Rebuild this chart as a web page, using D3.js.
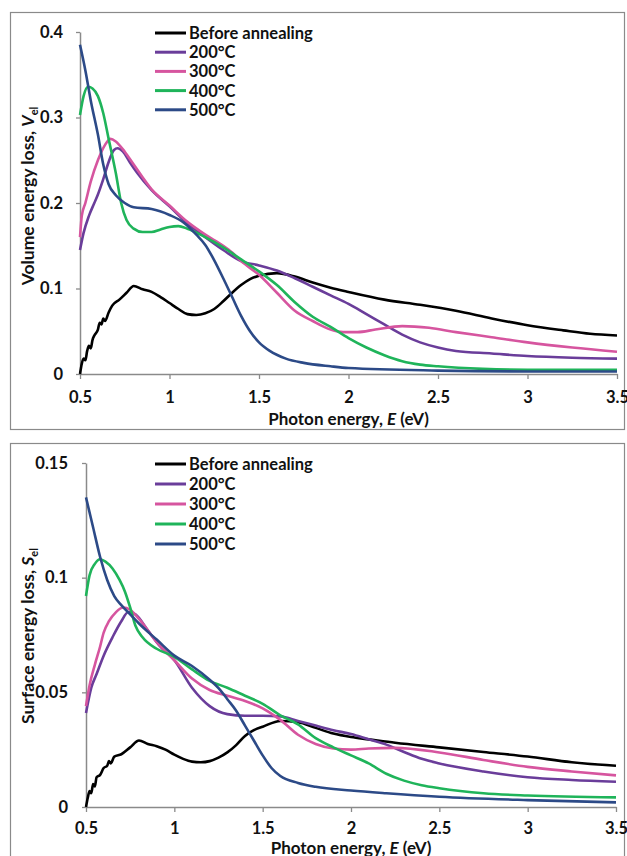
<!DOCTYPE html>
<html>
<head>
<meta charset="utf-8">
<script src="https://cdn.jsdelivr.net/npm/d3@7"></script>
<style>
  body { margin: 0; background: #fff; }
  svg { display: block; font-family: Lato, "Open Sans", sans-serif; font-weight: bold; }
</style>
</head>
<body>
<svg id="chart" width="627" height="856"></svg>
<script>
// series names and colours
const seriesNames = ['Before annealing', '200°C', '300°C', '400°C', '500°C']
const seriesColors = ['#000000', '#6a3d9a', '#d6559f', '#1fb45a', '#2c4a87']

const xTicks = [0.5, 1, 1.5, 2, 2.5, 3, 3.5]
const vTicks = [0, 0.1, 0.2, 0.3, 0.4]
const sTicks = [0, 0.05, 0.1, 0.15]

// volume energy loss, [E (eV), V_el]
const vBefore = [[0.5,0],[0.51,0.012],[0.52,0.018],[0.53,0.016],[0.54,0.027],[0.55,0.033],[0.56,0.03],[0.57,0.04],[0.58,0.045],[0.6,0.052],[0.61,0.06],[0.62,0.058],[0.63,0.065],[0.64,0.062],[0.66,0.072],[0.68,0.08],[0.72,0.087],[0.76,0.095],[0.8,0.103],[0.85,0.099],[0.9,0.096],[0.95,0.09],[1.0,0.083],[1.05,0.076],[1.1,0.07],[1.15,0.069],[1.2,0.071],[1.25,0.076],[1.3,0.085],[1.35,0.095],[1.4,0.104],[1.45,0.111],[1.5,0.115],[1.6,0.118],[1.7,0.114],[1.8,0.107],[1.9,0.101],[2.0,0.096],[2.2,0.087],[2.4,0.081],[2.6,0.074],[2.8,0.065],[3.0,0.057],[3.2,0.051],[3.35,0.047],[3.5,0.045]]
const v200 = [[0.5,0.145],[0.52,0.165],[0.55,0.185],[0.58,0.2],[0.6,0.21],[0.63,0.228],[0.66,0.248],[0.69,0.262],[0.71,0.264],[0.74,0.26],[0.78,0.247],[0.82,0.235],[0.9,0.215],[1.0,0.196],[1.1,0.176],[1.2,0.16],[1.3,0.145],[1.4,0.132],[1.5,0.127],[1.6,0.121],[1.7,0.112],[1.8,0.102],[1.9,0.092],[2.0,0.082],[2.1,0.07],[2.2,0.058],[2.3,0.046],[2.4,0.037],[2.5,0.031],[2.6,0.027],[2.8,0.024],[3.0,0.021],[3.25,0.019],[3.5,0.018]]
const v300 = [[0.5,0.16],[0.51,0.185],[0.53,0.2],[0.56,0.225],[0.6,0.25],[0.64,0.268],[0.67,0.275],[0.7,0.272],[0.75,0.26],[0.8,0.245],[0.9,0.216],[1.0,0.197],[1.1,0.178],[1.2,0.163],[1.3,0.15],[1.35,0.142],[1.4,0.132],[1.5,0.116],[1.6,0.095],[1.7,0.074],[1.8,0.062],[1.9,0.052],[1.97,0.049],[2.05,0.049],[2.15,0.052],[2.3,0.056],[2.45,0.054],[2.6,0.049],[2.8,0.043],[3.0,0.037],[3.25,0.031],[3.5,0.026]]
const v400 = [[0.5,0.303],[0.52,0.325],[0.545,0.336],[0.57,0.334],[0.6,0.325],[0.63,0.305],[0.66,0.275],[0.7,0.235],[0.73,0.2],[0.76,0.18],[0.8,0.17],[0.85,0.166],[0.9,0.166],[0.95,0.169],[1.0,0.172],[1.05,0.173],[1.1,0.17],[1.2,0.16],[1.3,0.148],[1.4,0.134],[1.5,0.12],[1.6,0.104],[1.7,0.084],[1.8,0.067],[1.9,0.055],[2.0,0.042],[2.1,0.031],[2.2,0.022],[2.3,0.015],[2.4,0.011],[2.5,0.009],[2.75,0.006],[3.0,0.005],[3.5,0.005]]
const v500 = [[0.5,0.385],[0.53,0.355],[0.56,0.32],[0.6,0.28],[0.63,0.245],[0.66,0.222],[0.7,0.209],[0.75,0.2],[0.8,0.195],[0.9,0.193],[1.0,0.186],[1.08,0.177],[1.15,0.163],[1.2,0.151],[1.25,0.133],[1.3,0.112],[1.35,0.09],[1.4,0.068],[1.45,0.05],[1.5,0.037],[1.56,0.027],[1.65,0.018],[1.75,0.013],[1.9,0.009],[2.0,0.007],[2.5,0.004],[3.0,0.003],[3.5,0.003]]

// surface energy loss, [E (eV), S_el]
const sBefore = [[0.5,0],[0.51,0.004],[0.52,0.007],[0.53,0.006],[0.54,0.01],[0.55,0.009],[0.56,0.013],[0.58,0.014],[0.6,0.017],[0.62,0.018],[0.63,0.02],[0.64,0.019],[0.66,0.022],[0.7,0.023],[0.75,0.026],[0.8,0.029],[0.85,0.0275],[0.9,0.0265],[0.95,0.025],[1.0,0.0228],[1.05,0.021],[1.1,0.0198],[1.15,0.0195],[1.2,0.02],[1.25,0.0215],[1.3,0.0238],[1.35,0.027],[1.4,0.031],[1.45,0.0335],[1.5,0.035],[1.6,0.0375],[1.7,0.037],[1.8,0.0345],[1.9,0.032],[2.0,0.0305],[2.1,0.0295],[2.25,0.028],[2.5,0.026],[2.75,0.024],[3.0,0.022],[3.25,0.0195],[3.5,0.018]]
const s200 = [[0.5,0.041],[0.53,0.052],[0.56,0.058],[0.6,0.066],[0.65,0.074],[0.7,0.081],[0.74,0.085],[0.78,0.084],[0.85,0.077],[0.92,0.07],[1.0,0.064],[1.1,0.052],[1.2,0.044],[1.3,0.0405],[1.4,0.0398],[1.5,0.0398],[1.6,0.0395],[1.7,0.0375],[1.8,0.0355],[1.9,0.0335],[2.0,0.0318],[2.1,0.0295],[2.2,0.0272],[2.3,0.024],[2.4,0.021],[2.5,0.019],[2.75,0.0155],[3.0,0.013],[3.25,0.0118],[3.5,0.011]]
const s300 = [[0.5,0.044],[0.52,0.053],[0.55,0.062],[0.58,0.07],[0.6,0.076],[0.63,0.081],[0.67,0.085],[0.71,0.087],[0.75,0.086],[0.8,0.082],[0.9,0.072],[1.0,0.064],[1.1,0.056],[1.2,0.051],[1.3,0.0485],[1.4,0.0462],[1.5,0.043],[1.6,0.038],[1.7,0.0315],[1.8,0.0275],[1.9,0.0255],[2.0,0.025],[2.1,0.0255],[2.25,0.0258],[2.5,0.0238],[2.75,0.0205],[3.0,0.0175],[3.25,0.0155],[3.5,0.0138]]
const s400 = [[0.5,0.092],[0.52,0.101],[0.55,0.106],[0.58,0.108],[0.61,0.107],[0.65,0.104],[0.69,0.099],[0.72,0.094],[0.75,0.087],[0.78,0.079],[0.82,0.074],[0.9,0.069],[1.0,0.0655],[1.1,0.06],[1.2,0.055],[1.3,0.052],[1.4,0.0485],[1.5,0.045],[1.6,0.04],[1.7,0.036],[1.8,0.03],[1.9,0.026],[2.0,0.0225],[2.1,0.019],[2.2,0.0145],[2.3,0.0115],[2.4,0.0095],[2.5,0.0082],[2.75,0.006],[3.0,0.005],[3.5,0.0042]]
const s500 = [[0.5,0.135],[0.54,0.122],[0.58,0.109],[0.62,0.099],[0.66,0.092],[0.7,0.088],[0.75,0.084],[0.8,0.08],[0.9,0.073],[1.0,0.066],[1.1,0.0615],[1.2,0.0555],[1.26,0.051],[1.3,0.047],[1.35,0.042],[1.4,0.0355],[1.45,0.029],[1.5,0.0225],[1.55,0.017],[1.6,0.0135],[1.7,0.0105],[1.8,0.0088],[2.0,0.0072],[2.2,0.006],[2.5,0.0045],[3.0,0.003],[3.5,0.002]]

const svg = d3.select('#chart')
const axisColor = '#8a8a8a'

function drawPanel(p){
    // outer frame
    svg.append('rect').attr('x', p.frame[0] + 0.5).attr('y', p.frame[1] + 0.5)
        .attr('width', p.frame[2]).attr('height', p.frame[3])
        .attr('fill', 'none').attr('stroke', axisColor).attr('stroke-width', 1.2)

    const x = d3.scaleLinear().domain([0.5, 3.5]).range([p.left, p.right])
    const y = d3.scaleLinear().domain([0, p.yTicks[p.yTicks.length - 1]]).range([p.bottom, p.top])

    const xAxis = svg.append('g').attr('transform', `translate(0, ${p.bottom})`)
        .call(d3.axisBottom(x).tickValues(xTicks).tickSize(5).tickSizeOuter(0).tickPadding(p.xPad).tickFormat(d => d))
    const yAxis = svg.append('g').attr('transform', `translate(${p.left}, 0)`)
        .call(d3.axisLeft(y).tickValues(p.yTicks).tickSize(4).tickSizeOuter(0).tickPadding(p.yPad).tickFormat(d => d))

    ;[xAxis, yAxis].forEach(a => {
        a.select('.domain').attr('stroke', axisColor).attr('stroke-width', 1.5)
        a.selectAll('.tick line').attr('stroke', axisColor).attr('stroke-width', 1.3)
        a.selectAll('.tick text').attr('fill', '#111').style('font-size', '16.5px')
            .style('font-family', 'Lato, sans-serif').style('font-weight', 'bold')
    })

    const line = d3.line().x(d => x(d[0])).y(d => y(d[1])).curve(d3.curveMonotoneX)

    p.series.forEach((s, i) => {
        svg.append('path').datum(s).attr('d', line)
            .attr('fill', 'none').attr('stroke', seriesColors[i])
            .attr('stroke-width', 2.6).attr('stroke-linejoin', 'round')
    })

    // legend
    seriesNames.forEach((name, i) => {
        const ly = p.legendY + i * p.legendStep
        svg.append('line').attr('x1', 155).attr('x2', 186).attr('y1', ly).attr('y2', ly)
            .attr('stroke', seriesColors[i]).attr('stroke-width', 3)
        svg.append('text').attr('x', 189).attr('y', ly).attr('dy', '0.36em')
            .style('font-size', '16.5px').attr('fill', '#111').text(name)
    })

    // x title
    const xt = svg.append('text').attr('x', (p.left + p.right) / 2).attr('y', p.xTitleY)
        .attr('text-anchor', 'middle').style('font-size', '17px').attr('fill', '#111')
    xt.append('tspan').text('Photon energy, ')
    xt.append('tspan').style('font-style', 'italic').text('E')
    xt.append('tspan').text(' (eV)')

    // y title
    const yt = svg.append('text')
        .attr('transform', `translate(${p.yTitleX}, ${p.yTitleY}) rotate(-90)`)
        .attr('text-anchor', 'middle').style('font-size', '17.5px').attr('fill', '#111')
    yt.append('tspan').text(p.yLabel + ' ')
    yt.append('tspan').style('font-style', 'italic').text(p.yVar)
    yt.append('tspan').attr('dy', 4).style('font-size', '11px').text('el')
}

drawPanel({
    frame: [10, 12, 614, 417],
    left: 80, right: 617, top: 32, bottom: 374,
    yTicks: vTicks, xPad: 12, yPad: 13,
    series: [vBefore, v200, v300, v400, v500],
    legendY: 33, legendStep: 19.2,
    xTitleY: 425, yTitleX: 34, yTitleY: 196,
    yLabel: 'Volume energy loss,', yVar: 'V'
})

drawPanel({
    frame: [10, 443, 614, 430],
    left: 86, right: 616, top: 463, bottom: 807,
    yTicks: sTicks, xPad: 10, yPad: 14,
    series: [sBefore, s200, s300, s400, s500],
    legendY: 464, legendStep: 20,
    xTitleY: 854, yTitleX: 34, yTitleY: 636,
    yLabel: 'Surface energy loss,', yVar: 'S'
})
</script>
</body>
</html>
